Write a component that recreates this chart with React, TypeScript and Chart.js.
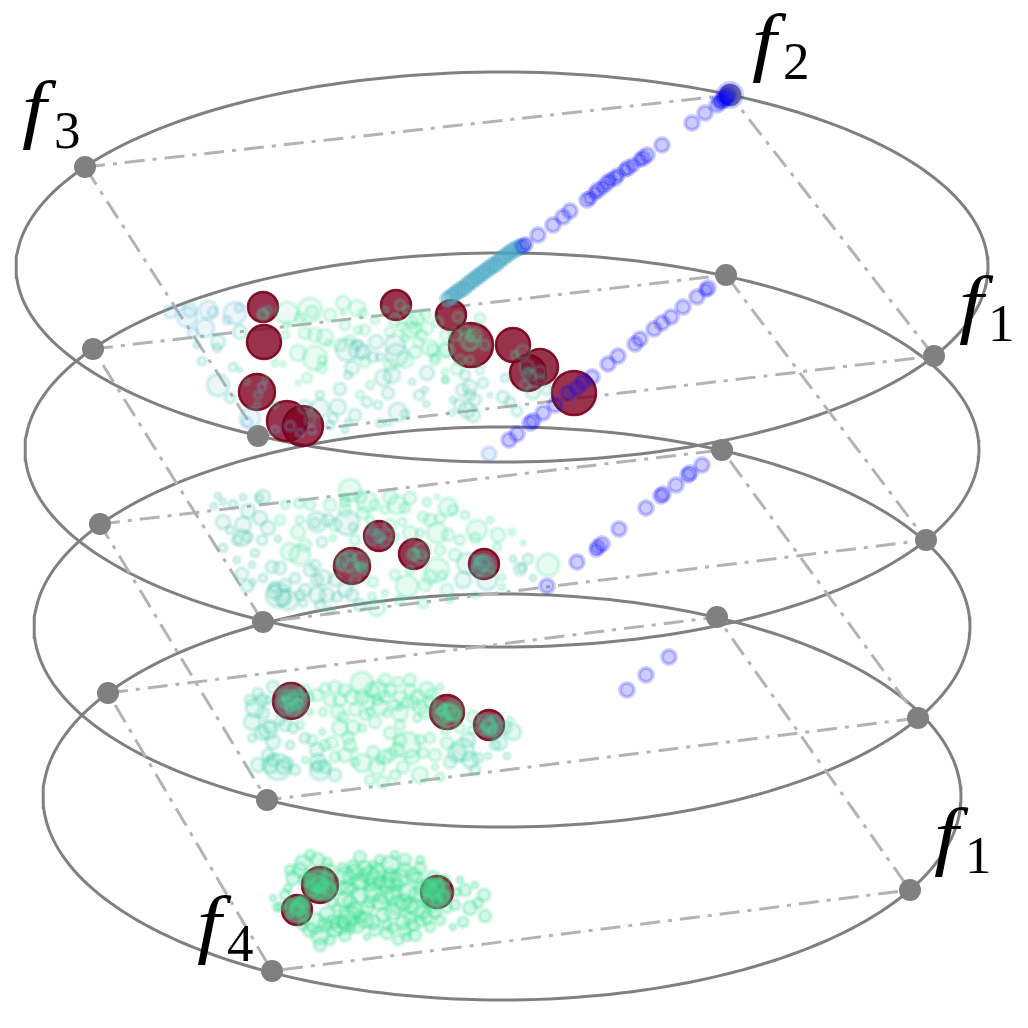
import React, { useEffect, useRef } from "react";
import { Chart, registerables } from "chart.js";

Chart.register(...registerables);

type P = [number, number, number];

const ellipseParams = [
  [502, 267, 486, 195],
  [502, 450, 477, 197],
  [502, 627, 468, 200],
  [502, 797, 459, 203],
];

const anchors1 = [[85, 167], [730, 95], [934, 356], [258, 436]];
const anchors2 = [[93, 349], [726, 275], [926, 540], [263, 622]];
const anchors3 = [[100, 524], [722, 450], [918, 718], [267, 800]];
const anchors4 = [[108, 693], [717, 617], [910, 890], [272, 971]];

const reds: P[] = [
  [263, 307, 15], [264, 342, 17], [257, 392, 18], [287, 421, 20], [303, 426, 20], [396, 305, 15],
  [451, 315, 15], [471, 345, 22], [513, 345, 17], [540, 367, 18], [528, 373, 18], [574, 393, 22],
  [379, 536, 15], [414, 554, 15], [352, 566, 18], [484, 564, 15],
  [291, 701, 18], [447, 712, 17], [489, 725, 15],
  [320, 885, 18], [437, 892, 16], [297, 910, 15],
];

const layer1Pale: P[] = [
  [170, 312, 6], [190, 310, 7], [187, 317, 10], [208, 310, 9], [213, 312, 5], [235, 313, 11], [239, 308, 4],
  [227, 320, 4], [205, 328, 9], [193, 333, 5], [250, 418, 10], [247, 422, 5], [262, 387, 4], [290, 426, 5], [275, 430, 4],
  [300, 433, 4], [312, 430, 4],
];
const layer1Teal: P[] = [
  [218, 342, 7], [217, 348, 4], [240, 332, 7], [197, 345, 3], [202, 361, 4], [233, 367, 4], [240, 370, 2], [218, 385, 11],
  [230, 398, 5], [247, 382, 3], [257, 405, 3], [263, 313, 5], [268, 310, 4], [358, 350, 9], [363, 352, 7], [357, 345, 5], [347, 350, 11],
  [352, 368, 7], [348, 375, 4], [373, 357, 5], [376, 342, 7], [380, 357, 4], [395, 345, 10], [397, 355, 11], [383, 378, 8],
  [392, 375, 8], [412, 382, 3], [427, 373, 7], [425, 390, 3], [419, 395, 5], [426, 404, 3], [388, 393, 6], [367, 402, 5],
  [378, 405, 4], [398, 412, 9], [405, 414, 4], [380, 423, 4], [388, 423, 3], [348, 422, 3], [345, 430, 3], [338, 407, 8],
  [333, 418, 5], [320, 408, 9], [305, 407, 7], [340, 389, 6], [445, 380, 3], [470, 387, 7], [462, 390, 6], [483, 383, 5],
  [467, 410, 8], [473, 415, 7], [453, 400, 3], [452, 413, 3], [490, 395, 2], [503, 397, 6], [510, 402, 5], [517, 411, 5],
  [533, 392, 7], [547, 390, 5], [505, 378, 4], [527, 367, 7], [527, 373, 5], [523, 352, 7],
  [475, 400, 6], [460, 405, 6], [470, 395, 5], [465, 375, 5], [530, 375, 6], [540, 372, 6], [525, 385, 5], [540, 380, 5],
  [258, 395, 4], [265, 380, 3], [275, 405, 3], [355, 415, 6], [320, 395, 4], [310, 420, 5], [330, 425, 4],
];
const layer1Green: P[] = [
  [287, 313, 11], [310, 310, 12], [312, 312, 6], [343, 303, 7], [357, 308, 8], [363, 313, 4], [343, 313, 2], [287, 325, 3], [305, 333, 6],
  [315, 335, 7], [325, 337, 8], [328, 343, 3], [298, 353, 8], [315, 358, 12], [322, 360, 4], [322, 368, 5], [307, 378, 5], [298, 383, 2],
  [275, 363, 3], [283, 364, 2], [358, 330, 4], [390, 332, 5], [410, 330, 8], [427, 328, 6], [407, 310, 4], [417, 318, 7], [430, 348, 8],
  [435, 360, 5], [445, 350, 7], [418, 342, 5], [402, 327, 5], [480, 318, 5], [470, 340, 10], [470, 337, 4], [470, 343, 7], [433, 350, 6],
  [447, 350, 7], [457, 369, 6], [435, 358, 4], [446, 380, 3], [458, 317, 5], [395, 320, 6], [412, 322, 6], [422, 335, 5], [405, 338, 4],
  [263, 315, 5], [285, 335, 4], [300, 318, 5], [330, 315, 6], [345, 325, 5], [365, 330, 5], [375, 320, 4], [385, 310, 3], [400, 305, 5],
  [415, 328, 6], [425, 315, 5], [438, 322, 5], [445, 335, 5], [455, 335, 6], [465, 330, 5], [475, 335, 7], [485, 345, 5], [460, 360, 5],
  [470, 360, 4], [480, 370, 4], [445, 372, 3], [340, 345, 6], [350, 340, 5], [365, 362, 5], [405, 360, 8], [415, 352, 6], [390, 365, 6],
  [370, 385, 4], [360, 395, 4], [515, 355, 4],
];
const blueTop: P[] = [
  [692, 123, 7], [705, 113, 7], [717, 105, 7], [723, 100, 7], [727, 97, 7], [728, 95, 8], [730, 95, 12], [725, 98, 7], [721, 102, 7], [719, 101, 6],
  [662, 145, 7], [647, 155, 7], [643, 158, 7], [640, 160, 6], [633, 165, 6], [628, 168, 7], [625, 170, 6], [618, 175, 6], [615, 178, 7],
  [610, 180, 6], [607, 183, 7], [603, 187, 6], [598, 190, 7], [595, 193, 6], [590, 198, 6], [587, 200, 7], [570, 211, 7], [563, 217, 7],
  [553, 225, 7], [538, 235, 7], [523, 246, 7], [526, 244, 6],
];
const tealLine: P[] = [
  [448, 299, 7], [452, 296, 7], [456, 293, 7], [460, 290, 7], [464, 288, 7], [468, 284, 7], [472, 281, 7], [476, 278, 7], [480, 275, 7],
  [484, 272, 7], [488, 269, 7], [492, 266, 7], [496, 264, 7], [500, 260, 7], [504, 257, 7], [508, 254, 7], [512, 251, 7], [516, 249, 7], [520, 247, 7],
];
const blueMid: P[] = [
  [509, 440, 7], [517, 434, 7], [530, 423, 7], [533, 421, 7], [543, 413, 7], [555, 405, 7], [568, 393, 7], [577, 388, 7], [583, 382, 7],
  [592, 377, 7], [608, 364, 7], [618, 356, 7], [635, 344, 7], [640, 339, 7], [654, 329, 7], [662, 323, 7], [671, 317, 7], [683, 307, 7],
  [697, 297, 7], [708, 288, 7], [706, 290, 6],
];
const bluePale: P[] = [[489, 454, 7]];
const blueLow: P[] = [
  [702, 465, 7], [688, 475, 7], [690, 473, 7], [676, 485, 7], [663, 494, 7], [661, 496, 7], [646, 508, 7], [619, 529, 7], [602, 544, 7],
  [598, 547, 7], [596, 550, 6], [577, 562, 7], [547, 586, 7],
  [669, 657, 7], [646, 675, 7], [627, 690, 7],
];

const layer2Teal: P[] = [
  [218, 496, 3], [223, 502, 3], [214, 506, 3], [233, 504, 4], [243, 497, 3], [263, 497, 7], [259, 498, 4], [248, 511, 7], [223, 522, 7],
  [243, 525, 8], [260, 518, 7], [268, 528, 7], [278, 539, 3], [242, 538, 8], [237, 540, 5], [248, 537, 5], [255, 553, 4], [223, 548, 4],
  [237, 560, 3], [242, 574, 6], [247, 586, 6], [253, 582, 3], [272, 567, 6], [263, 578, 4], [278, 595, 12], [275, 592, 7], [288, 600, 10],
  [280, 568, 6], [283, 598, 8], [274, 587, 5], [310, 570, 6], [323, 578, 8], [317, 580, 6], [315, 565, 5], [327, 595, 7], [317, 595, 8],
  [303, 603, 4], [317, 522, 10], [315, 523, 5], [328, 520, 6], [322, 542, 5], [347, 523, 12], [353, 527, 4], [337, 597, 5], [352, 595, 6],
  [340, 565, 5], [350, 555, 5], [360, 567, 4], [373, 537, 8], [380, 537, 4], [413, 555, 6], [420, 557, 7], [362, 567, 5], [483, 563, 8], [482, 561, 5],
  [467, 563, 10], [463, 580, 8], [487, 580, 10], [520, 569, 6], [522, 568, 4], [528, 559, 5], [533, 578, 3], [513, 559, 3],
  [379, 536, 6], [372, 530, 5], [385, 542, 5], [352, 566, 7], [343, 560, 6], [363, 570, 5], [484, 564, 6], [478, 560, 4], [490, 568, 4],
  [345, 590, 7], [360, 605, 6], [335, 580, 6], [305, 590, 6], [295, 578, 5], [320, 605, 5], [300, 595, 5], [330, 610, 4], [262, 540, 5],
  [230, 530, 4], [252, 565, 3], [285, 585, 6], [484, 566, 11], [478, 570, 7],
];
const layer2Green: P[] = [
  [290, 552, 9], [300, 555, 10], [298, 532, 7], [299, 503, 5], [300, 520, 4], [333, 538, 3], [345, 502, 5], [350, 490, 11], [345, 510, 6],
  [367, 502, 10], [363, 513, 6], [390, 497, 7], [397, 505, 9], [410, 498, 6], [402, 522, 4], [427, 502, 4], [423, 517, 5], [437, 497, 2],
  [448, 507, 9], [453, 510, 5], [410, 533, 7], [420, 533, 4], [437, 533, 10], [448, 535, 6], [477, 530, 10], [475, 538, 5], [460, 540, 5],
  [498, 535, 7], [512, 532, 3], [523, 543, 2], [497, 547, 4], [447, 590, 6], [430, 577, 7], [437, 570, 12], [442, 575, 4], [407, 586, 11],
  [373, 582, 5], [372, 597, 4], [385, 593, 3], [377, 608, 8], [423, 603, 5], [502, 577, 3], [502, 587, 3], [548, 565, 11], [345, 498, 4],
  [360, 497, 6], [375, 505, 5], [405, 508, 5], [385, 510, 4],
  [414, 554, 5], [305, 545, 6], [280, 520, 5], [285, 505, 4], [310, 505, 5], [330, 505, 6], [335, 525, 6], [355, 540, 5], [370, 520, 4],
  [390, 525, 6], [395, 537, 4], [430, 520, 6], [440, 518, 5], [465, 515, 4], [490, 520, 3], [455, 555, 6], [440, 550, 5], [425, 585, 6],
  [410, 570, 4], [395, 575, 5], [355, 580, 5], [400, 600, 5], [450, 600, 3], [475, 595, 3], [347, 562, 10], [361, 560, 8], [422, 550, 8],
];

const layer3Teal: P[] = [
  [258, 693, 5], [273, 687, 6], [255, 708, 9], [252, 722, 8], [268, 730, 9], [252, 738, 4], [273, 742, 7], [278, 767, 13], [270, 765, 8],
  [287, 763, 6], [293, 728, 5], [305, 738, 5], [317, 750, 7], [318, 762, 8], [320, 770, 10], [335, 775, 6], [263, 713, 6], [262, 733, 7],
  [270, 727, 6], [283, 767, 7], [273, 760, 6], [317, 767, 5], [325, 767, 6], [457, 753, 9], [463, 750, 11], [450, 762, 6], [468, 740, 7], [478, 758, 5],
  [500, 743, 7], [507, 756, 3], [513, 732, 8],
  [291, 701, 8], [285, 695, 5], [298, 695, 6], [293, 710, 7], [300, 703, 4], [489, 725, 7], [483, 730, 5], [495, 720, 5], [492, 732, 4],
  [262, 700, 6], [250, 700, 5], [268, 700, 4], [280, 720, 5], [285, 725, 6], [290, 745, 4], [268, 755, 6], [258, 765, 7], [295, 770, 5],
  [470, 760, 8], [475, 770, 5], [505, 728, 6], [495, 745, 5], [290, 698, 13], [296, 704, 11], [285, 705, 9], [492, 727, 11], [486, 722, 8],
];
const layer3Green: P[] = [
  [322, 732, 3], [317, 695, 6], [325, 688, 5], [335, 687, 6], [338, 712, 7], [323, 712, 4], [340, 728, 8], [353, 727, 7], [362, 728, 4],
  [332, 743, 6], [348, 738, 6], [355, 750, 2], [362, 683, 11], [378, 690, 9], [368, 702, 7], [380, 707, 8], [398, 682, 5], [400, 697, 6],
  [355, 710, 6], [400, 713, 8], [413, 703, 6], [427, 690, 8], [440, 687, 3], [390, 733, 6], [407, 745, 13], [385, 757, 7], [373, 752, 6],
  [362, 763, 9], [355, 762, 4], [377, 767, 8], [403, 767, 6], [383, 782, 6], [420, 775, 8], [423, 753, 5], [430, 738, 5], [435, 767, 3],
  [447, 743, 6], [488, 756, 3], [473, 717, 6], [443, 710, 5], [452, 712, 8], [490, 727, 7], [493, 730, 4], [290, 697, 8], [285, 703, 5],
  [297, 705, 6], [387, 713, 4], [417, 718, 4], [343, 717, 5], [370, 712, 4], [305, 760, 3], [400, 707, 3], [310, 697, 4], [310, 712, 3],
  [390, 690, 6], [420, 707, 7], [407, 702, 5], [377, 700, 5], [380, 760, 4], [390, 755, 6], [397, 750, 7], [372, 690, 7], [385, 697, 6],
  [410, 690, 6], [430, 702, 5], [395, 705, 5],
  [447, 712, 8], [440, 708, 6], [455, 715, 6], [445, 718, 5], [345, 690, 6], [352, 697, 7], [362, 697, 7], [340, 700, 6], [330, 700, 6],
  [305, 690, 5], [385, 680, 6], [410, 680, 6], [418, 697, 7], [432, 695, 6], [425, 712, 6], [400, 725, 5], [375, 722, 6], [365, 715, 5],
  [350, 745, 6], [345, 755, 7], [335, 757, 5], [325, 745, 5], [312, 740, 5], [300, 725, 4], [412, 757, 7], [400, 740, 6], [420, 740, 5],
  [435, 755, 6], [440, 777, 4], [395, 775, 5], [370, 780, 5], [445, 730, 4], [460, 728, 5], [472, 730, 4], [510, 720, 3],
  [448, 716, 12], [453, 710, 10], [441, 716, 8],
];

const layer4Green: P[] = [
  [273, 898, 3], [280, 907, 4], [293, 878, 7], [303, 863, 8], [318, 860, 7], [327, 863, 5], [288, 888, 4], [360, 857, 6], [360, 882, 8],
  [370, 875, 9], [390, 865, 9], [405, 860, 6], [350, 878, 7], [343, 868, 5], [347, 888, 7], [360, 895, 8], [373, 892, 9], [387, 885, 8],
  [400, 878, 9], [413, 875, 7], [407, 892, 9], [393, 895, 9], [380, 902, 8], [367, 908, 7], [347, 920, 10], [340, 925, 9], [357, 925, 8],
  [367, 937, 3], [387, 933, 6], [398, 940, 5], [407, 937, 4], [403, 922, 7], [417, 908, 9], [427, 918, 6], [430, 927, 5], [320, 935, 9],
  [315, 923, 10], [303, 925, 5], [327, 915, 8], [332, 902, 5], [417, 878, 6], [433, 878, 7], [447, 908, 5], [463, 922, 5], [453, 927, 3],
  [470, 908, 7], [465, 890, 6], [478, 903, 5], [484, 895, 6], [485, 916, 6], [433, 902, 9], [423, 888, 8], [383, 915, 7], [373, 922, 7],
  [393, 912, 8], [410, 918, 6], [403, 902, 8], [370, 902, 6], [350, 902, 7], [340, 888, 6], [337, 908, 4], [353, 865, 5], [373, 865, 4],
  [318, 883, 8], [310, 878, 5], [323, 888, 6], [303, 902, 6], [297, 908, 6], [290, 915, 3], [277, 907, 4], [433, 892, 7], [438, 885, 6],
  [443, 895, 6], [457, 892, 4], [427, 902, 6], [417, 895, 8], [420, 922, 5], [363, 875, 6], [390, 875, 7], [380, 882, 6], [397, 885, 6],
  [370, 885, 6], [353, 888, 5], [343, 922, 6], [350, 928, 5], [333, 922, 7], [360, 917, 6], [393, 928, 5], [387, 925, 5], [413, 925, 6],
  [320, 885, 8], [312, 890, 7], [327, 878, 6], [318, 893, 7], [330, 890, 6], [437, 892, 9], [430, 885, 6], [444, 897, 6], [437, 900, 5],
  [297, 910, 8], [290, 905, 5], [303, 915, 5], [300, 903, 5], [345, 875, 8], [355, 872, 8], [365, 868, 7], [378, 872, 8], [392, 880, 9],
  [405, 870, 7], [420, 868, 6], [428, 888, 8], [445, 880, 5], [375, 880, 9], [385, 895, 9], [398, 905, 9], [410, 905, 8], [423, 912, 7],
  [435, 912, 6], [345, 900, 8], [355, 910, 8], [365, 920, 8], [375, 930, 6], [350, 915, 10], [335, 930, 7], [345, 935, 6], [325, 925, 7],
  [310, 930, 7], [320, 945, 6], [330, 940, 5], [300, 870, 7], [290, 870, 5], [305, 880, 6], [285, 895, 5], [415, 935, 6], [405, 930, 6],
  [440, 920, 5], [455, 905, 5], [460, 880, 3], [475, 885, 3], [310, 855, 5], [330, 870, 6], [380, 860, 5], [420, 860, 4], [395, 855, 4],
  [320, 885, 14], [316, 880, 11], [325, 890, 10], [437, 893, 13], [433, 888, 10], [297, 910, 12], [300, 906, 9],
];

const labelLetters = [
  { f: "f", sub: "3", fx: 22, fy: 134, sx: 54, sy: 148 },
  { f: "f", sub: "2", fx: 752, fy: 67, sx: 783, sy: 79 },
  { f: "f", sub: "1", fx: 959, fy: 329, sx: 988, sy: 341 },
  { f: "f", sub: "1", fx: 934, fy: 861, sx: 965, sy: 873 },
  { f: "f", sub: "4", fx: 197, fy: 949, sx: 227, sy: 961 },
];

const GRAY = "#808080";
const DASH = "#b3b3b3";

function ellipsePoints([cx, cy, rx, ry]: number[]) {
  const out: { x: number; y: number }[] = [];
  for (let i = 0; i <= 240; i++) {
    const t = (i / 240) * Math.PI * 2;
    out.push({ x: cx + rx * Math.cos(t), y: cy + ry * Math.sin(t) });
  }
  return out;
}

const bub = (arr: P[]) => arr.map(([x, y, r]) => ({ x, y, r }));
const xy = (arr: number[][]) => arr.map(([x, y]) => ({ x, y }));

function ringSet(arr: P[], rgb: string, fa: number, ba: number, bw = 4) {
  return {
    type: "bubble" as const,
    data: bub(arr),
    backgroundColor: `rgba(${rgb},${fa})`,
    borderColor: `rgba(${rgb},${ba})`,
    borderWidth: bw,
    clip: false,
  };
}

const labelPlugin = {
  id: "labels",
  afterDraw(chart: any) {
    const { ctx, scales } = chart;
    ctx.save();
    ctx.fillStyle = "#000";
    ctx.textBaseline = "alphabetic";
    for (const l of labelLetters) {
      ctx.save();
      ctx.translate(scales.x.getPixelForValue(l.fx), scales.y.getPixelForValue(l.fy));
      ctx.scale(1.15, 1);
      ctx.font = 'italic 76px "Liberation Serif"';
      ctx.fillText(l.f, 0, 0);
      ctx.restore();
      ctx.font = '53px "Liberation Serif"';
      ctx.fillText(l.sub, scales.x.getPixelForValue(l.sx), scales.y.getPixelForValue(l.sy));
    }
    ctx.restore();
  },
};

export default function App() {
  const ref = useRef<HTMLCanvasElement>(null);
  useEffect(() => {
    const ordered: any[] = [];
    ellipseParams.forEach((e) =>
      ordered.push({
        type: "scatter",
        showLine: true,
        data: ellipsePoints(e),
        borderColor: GRAY,
        borderWidth: 3,
        pointRadius: 0,
        fill: false,
        clip: false,
      })
    );
    [anchors1, anchors2, anchors3, anchors4].forEach((a) =>
      ordered.push({
        type: "scatter",
        showLine: true,
        data: xy([...a, a[0]]),
        borderColor: DASH,
        borderWidth: 3,
        borderDash: [20, 8, 4, 8],
        pointRadius: 0,
        fill: false,
        clip: false,
      })
    );
    ordered.push({
      type: "bubble",
      data: [...anchors1, ...anchors2, ...anchors3, ...anchors4].map(([x, y]) => ({ x, y, r: 11 })),
      backgroundColor: GRAY,
      borderWidth: 0,
      clip: false,
    });
    ordered.push({
      type: "bubble",
      data: bub(reds),
      backgroundColor: "rgba(128,0,32,0.8)",
      borderColor: "rgba(120,0,25,0.9)",
      borderWidth: 2.5,
      clip: false,
    });
    ordered.push(ringSet(layer1Pale, "100,185,215", 0.12, 0.2));
    ordered.push(ringSet(layer1Teal, "70,195,175", 0.12, 0.18));
    ordered.push(ringSet(layer1Green, "70,225,155", 0.12, 0.18));
    ordered.push(ringSet(tealLine, "70,165,195", 0.35, 0.35));
    ordered.push(ringSet(blueTop, "0,0,255", 0.2, 0.2));
    ordered.push(ringSet(blueMid, "0,0,255", 0.2, 0.2));
    ordered.push(ringSet(bluePale, "70,140,235", 0.16, 0.18));
    ordered.push(ringSet(blueLow, "0,0,255", 0.2, 0.2));
    ordered.push(ringSet(layer2Teal, "70,195,170", 0.13, 0.19));
    ordered.push(ringSet(layer2Green, "70,225,160", 0.13, 0.19));
    ordered.push(ringSet(layer3Teal, "70,205,170", 0.15, 0.2));
    ordered.push(ringSet(layer3Green, "70,225,155", 0.15, 0.2));
    ordered.push(ringSet(layer4Green, "60,225,145", 0.22, 0.22));

    ordered.forEach((d, i) => {
      d.order = ordered.length - i;
    });

    const chart = new Chart(ref.current!, {
      type: "bubble",
      data: { datasets: ordered },
      options: {
        responsive: false,
        animation: false,
        devicePixelRatio: 1,
        layout: { padding: 0, autoPadding: false },
        plugins: { legend: { display: false }, tooltip: { enabled: false } },
        events: [],
        scales: {
          x: { type: "linear", min: 0, max: 1028, display: false },
          y: { type: "linear", min: 0, max: 1028, reverse: true, display: false },
        },
      },
      plugins: [labelPlugin],
    } as any);
    return () => chart.destroy();
  }, []);
  return (
    <div style={{ position: "fixed", left: 0, top: 0, width: 1028, height: 1028, background: "#fff" }}>
      <canvas ref={ref} width={1028} height={1028} style={{ display: "block", filter: "blur(0.7px)" }} />
    </div>
  );
}
